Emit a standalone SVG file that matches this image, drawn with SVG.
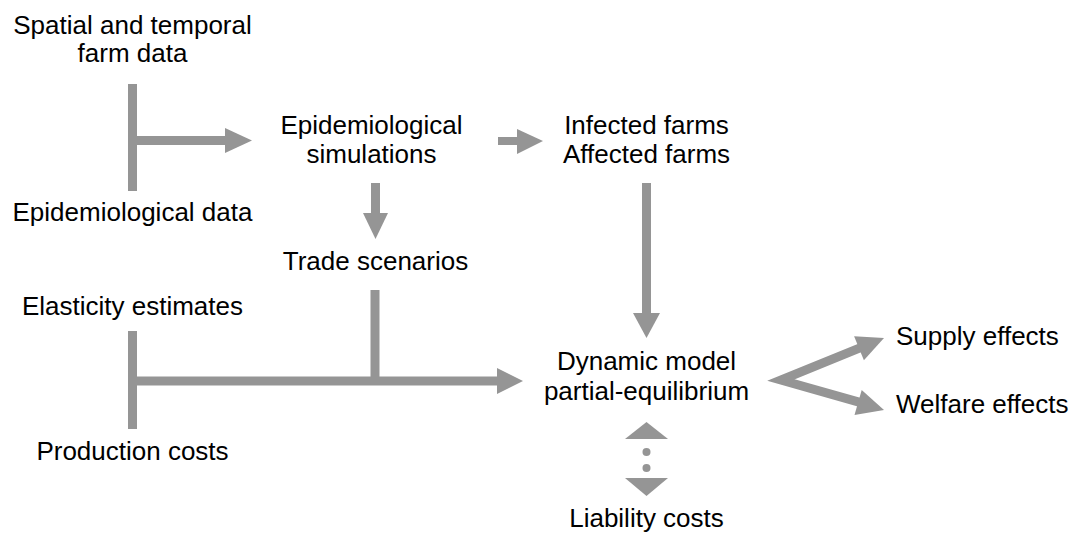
<svg xmlns="http://www.w3.org/2000/svg" width="1075" height="536" viewBox="0 0 1075 536">
<style>
text{font-family:"Liberation Sans",Arial,sans-serif;font-size:26px;fill:#000}
.c{text-anchor:middle}
.l{fill:none;stroke:#959595;stroke-width:9}
.h{fill:#959595}
</style>
<rect width="1075" height="536" fill="#fff"/>
<g id="connectors">
<line class="l" x1="132.5" y1="84" x2="132.5" y2="191"/>
<line class="l" x1="137" y1="140.5" x2="227" y2="140.5"/>
<polygon class="h" points="225,128 252,140.5 225,153"/>
<line class="l" x1="498" y1="141" x2="519" y2="141" style="stroke-width:8"/>
<polygon class="h" points="517,129 543,141 517,154"/>
<line class="l" x1="375.5" y1="183" x2="375.5" y2="215"/>
<polygon class="h" points="363,213 388,213 375.5,239"/>
<line class="l" x1="646.5" y1="183" x2="646.5" y2="315"/>
<polygon class="h" points="633,313 660,313 646.5,338"/>
<line class="l" x1="132.5" y1="331" x2="132.5" y2="429"/>
<line class="l" x1="375" y1="290" x2="375" y2="381"/>
<line class="l" x1="128" y1="381" x2="499" y2="381"/>
<polygon class="h" points="497,368 523,381 497,394"/>
<polygon class="h" points="625,439 668,439 646.5,422"/>
<circle class="h" cx="646.5" cy="452" r="4"/>
<circle class="h" cx="646.5" cy="468" r="4"/>
<polygon class="h" points="625,478 668,478 646.5,496"/>
<polyline class="l" points="860,347.8 781,380 859,402.1"/>
<polygon class="h" points="854.1,336.2 884,338 863.9,360.2"/>
<polygon class="h" points="861.7,389.9 884,410 854.5,414.9"/>
</g>
<g id="n-spatial"><text class="c" x="132.5" y="34">Spatial and temporal</text><text class="c" x="132.5" y="62">farm data</text></g>
<g id="n-epidata"><text class="c" x="132.5" y="221">Epidemiological data</text></g>
<g id="n-episim"><text class="c" x="371.5" y="134">Epidemiological</text><text class="c" x="371.5" y="163">simulations</text></g>
<g id="n-farms"><text class="c" x="646.5" y="134">Infected farms</text><text class="c" x="646.5" y="163">Affected farms</text></g>
<g id="n-trade"><text class="c" x="375.5" y="270">Trade scenarios</text></g>
<g id="n-elasticity"><text class="c" x="132.5" y="315">Elasticity estimates</text></g>
<g id="n-production"><text class="c" x="132.5" y="460">Production costs</text></g>
<g id="n-model"><text class="c" x="646.5" y="370">Dynamic model</text><text class="c" x="646.5" y="400">partial-equilibrium</text></g>
<g id="n-liability"><text class="c" x="646.5" y="527">Liability costs</text></g>
<g id="n-supply"><text x="896" y="345">Supply effects</text></g>
<g id="n-welfare"><text x="896" y="413">Welfare effects</text></g>
</svg>
